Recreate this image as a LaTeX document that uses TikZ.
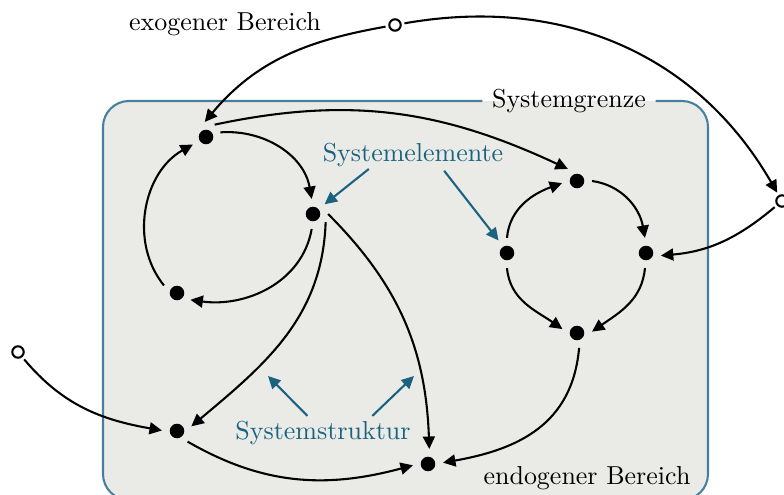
\documentclass[tikz,border=0pt]{standalone}
\usetikzlibrary{arrows.meta}
\definecolor{grenze}{RGB}{70,128,158}
\definecolor{bereich}{RGB}{234,235,231}
\definecolor{hinweis}{RGB}{26,98,128}
\tikzset{
  element/.style={circle,fill=black,inner sep=0pt,minimum size=5.6pt,outer sep=3pt},
  umwelt/.style={circle,draw=black,fill=white,line width=0.8pt,inner sep=0pt,minimum size=4.4pt,outer sep=1.5pt},
  wirkung/.style={-{Triangle[length=4.8pt,width=4.6pt]},thick},
  zeiger/.style={-{Triangle[length=4.8pt,width=4.6pt]},thick,hinweis},
}
\begin{document}
\begin{tikzpicture}[x=0.385pt,y=0.385pt]
  \useasboundingbox (0,0) rectangle (784,495);
  % Systemgrenze
  \fill[bereich,rounded corners=10pt] (103,-5) rectangle (708,394);
  \node[inner sep=3.5pt] (grenzlabel) at (569,394) {Systemgrenze};
  \draw[grenze,line width=0.8pt,rounded corners=10pt] (grenzlabel.east) -- (708,394) -- (708,-5)
    -- (103,-5) -- (103,394) -- (grenzlabel.west);
  \node (exo) at (225,471) {exogener Bereich};
  \node (endo) at (587,17) {endogener Bereich};

  % Umwelt
  \node[umwelt] (oben) at (395,470) {};
  \node[umwelt] (rechts) at (782,294) {};
  \node[umwelt] (links) at (18,143) {};

  % Systemelemente
  \node[element] (a) at (206,358) {};
  \node[element] (b) at (313,281) {};
  \node[element] (c) at (177,202) {};
  \node[element] (d) at (177,64) {};
  \node[element] (e) at (428,31) {};
  \node[element] (f) at (577,314) {};
  \node[element] (g) at (507,242) {};
  \node[element] (h) at (646,242) {};
  \node[element] (i) at (577,162) {};

  % Beziehungen
  \draw[wirkung] (oben) to[out=190,in=50] (a.95);
  \draw[wirkung] (oben) to[out=10,in=120] (rechts);
  \draw[wirkung] (rechts) to[out=220,in=5] (h.-10);
  \draw[wirkung] (links) to[out=-50,in=170] (d.178);
  \draw[wirkung] (a.18) to[out=4,in=100] (b.95);
  \draw[wirkung] (a.55) to[out=12,in=155] (f.127);
  \draw[wirkung] (c.150) to[out=129,in=209] (a.210);
  \draw[wirkung] (b.-95) to[out=-100,in=-8] (c.-27);
  \draw[wirkung] (b.-33) to[out=-92,in=40] (d.18);
  \draw[wirkung] (b.0) to[out=-45,in=92] (e.85);
  \draw[wirkung] (d.-45) to[out=-30,in=195] (e.185);
  \draw[wirkung] (i.-82) to[out=-95,in=10,looseness=1.1] (e.5);
  \draw[wirkung] (g.90) to[out=85,in=200] (f.188);
  \draw[wirkung] (f.0) to[out=-8,in=100] (h.94);
  \draw[wirkung] (g.-90) to[out=-85,in=145] (i.165);
  \draw[wirkung] (h.-94) to[out=-95,in=35] (i.5);

  % Beschriftungen
  \node[text=hinweis] (elemente) at (413,340) {Systemelemente};
  \node[text=hinweis] (struktur) at (323,62) {Systemstruktur};
  \coordinate (s1) at (268,119);
  \coordinate (s2) at (414,119);
  \draw[zeiger] ([xshift=-17pt,yshift=2.7pt]elemente.south) -- (b.40);
  \draw[zeiger] ([xshift=12pt,yshift=2pt]elemente.south) -- (g.124);
  \draw[zeiger] ([xshift=-6pt,yshift=-1.5pt]struktur.north) -- (s1);
  \draw[zeiger] ([xshift=19pt,yshift=-1.5pt]struktur.north) -- (s2);
\end{tikzpicture}
\end{document}
